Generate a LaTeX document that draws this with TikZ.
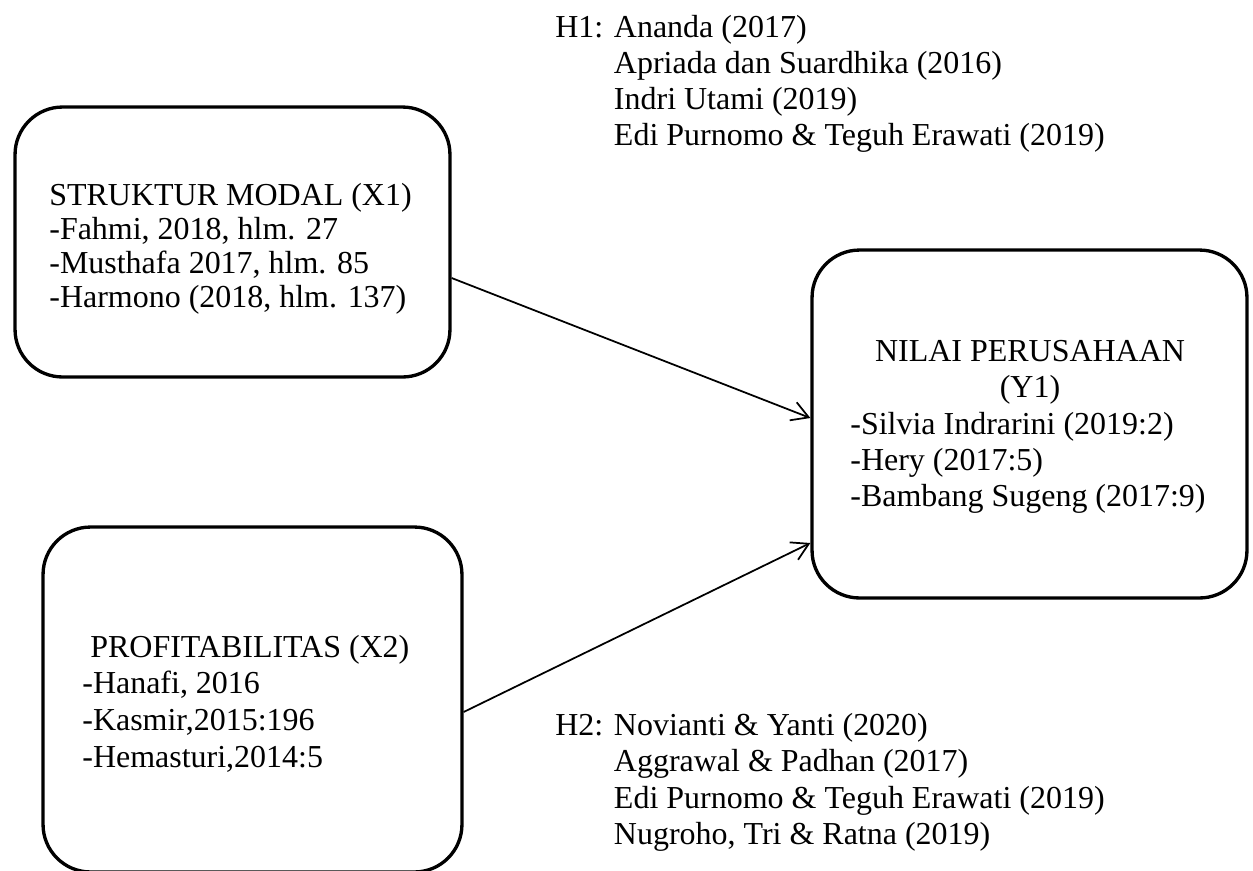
\documentclass[tikz,border=0pt]{standalone}
\usepackage{fontspec}
\setmainfont{Liberation Serif}
\usetikzlibrary{arrows.meta}
\begin{document}
\begin{tikzpicture}[x=0.02cm,y=-0.02cm,
  box/.style={draw=black,line width=1.9pt,rounded corners=0.95cm,inner sep=0pt},
  txt/.style={inner sep=0pt,anchor=base west},
  link/.style={draw=black,line width=1pt,-{Straight Barb[length=9.5pt,width=11pt,line width=1pt]}}]
\useasboundingbox (0,0) rectangle (1253,870);
\fill[white] (0,0) rectangle (1253,870);
% boxes
\node[box,minimum width=8.7cm,minimum height=5.4cm] (x1) at (232.5,242) {};
\node[box,minimum width=8.38cm,minimum height=6.9cm] (x2) at (252.5,699.5) {};
\node[box,minimum width=8.7cm,minimum height=6.96cm] (y1) at (1029.5,424) {};
% box texts
\node[txt,font=\fontsize{18.2}{19.5}\selectfont] (x1t) at (49,205)
  {\begin{tabular}[t]{@{}l@{}}STRUKTUR MODAL (X1)\\-Fahmi, 2018, hlm. 27\\-Musthafa 2017, hlm. 85\\-Harmono (2018, hlm. 137)\end{tabular}};
\node[txt,font=\fontsize{18.2}{20.9}\selectfont] (x2t) at (82,657)
  {\begin{tabular}[t]{@{}l@{}}\hspace*{0.16cm}PROFITABILITAS (X2)\\-Hanafi, 2016\\-Kasmir,2015:196\\-Hemasturi,2014:5\end{tabular}};
\node[txt,anchor=base,font=\fontsize{18.2}{20.77}\selectfont] (y1h) at (1030,361)
  {\begin{tabular}[t]{@{}c@{}}NILAI PERUSAHAAN\\(Y1)\end{tabular}};
\node[txt,font=\fontsize{18.2}{20.77}\selectfont] (y1t) at (850,434)
  {\begin{tabular}[t]{@{}l@{}}-Silvia Indrarini (2019:2)\\-Hery (2017:5)\\-Bambang Sugeng (2017:9)\end{tabular}};
% hypothesis notes
\node[txt,font=\fontsize{18.2}{20.6}\selectfont] (h1) at (555,37)
  {\begin{tabular}[t]{@{}l@{ }l@{}}H1: & Ananda (2017)\\ & Apriada dan Suardhika (2016)\\ & Indri Utami (2019)\\ & Edi Purnomo \& Teguh Erawati (2019)\end{tabular}};
\node[txt,font=\fontsize{18.2}{20.8}\selectfont] (h2) at (555,735)
  {\begin{tabular}[t]{@{}l@{ }l@{}}H2: & Novianti \& Yanti (2020)\\ & Aggrawal \& Padhan (2017)\\ & Edi Purnomo \& Teguh Erawati (2019)\\ & Nugroho, Tri \& Ratna (2019)\end{tabular}};
% connectors
\draw[link] ([yshift=-0.72cm]x1.east) -- ([yshift=0.12cm]y1.west);
\draw[link] ([yshift=-0.25cm]x2.east) -- ([yshift=-2.38cm]y1.west);
\end{tikzpicture}
\end{document}
